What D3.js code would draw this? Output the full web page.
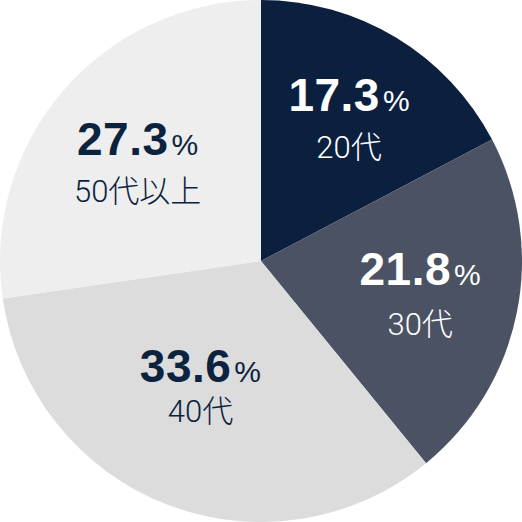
<!DOCTYPE html>
<html><head><meta charset="utf-8">
<script src="https://cdn.jsdelivr.net/npm/d3@7"></script>
<style>html,body{margin:0;padding:0;background:#fff;}svg{display:block;}</style>
</head><body>
<script>
const categories = ["20代", "30代", "40代", "50代以上"];
const values = [17.3, 21.8, 33.6, 27.3];
const colors = ["#0b1f3e", "#4a5263", "#dcdcdc", "#eeeeee"];
const textColors = ["#ffffff", "#ffffff", "#0c2340", "#0c2340"];
// layout nudges for labels (relative to arc centroid) and line gap
const labelNudge = [[3, -9], [-2, -9], [-1, -32], [1, 2]];
const labelGap = [47, 50, 40, 47];

const W = 522, H = 522, R = 261;
const svg = d3.select("body").append("svg").attr("width", W).attr("height", H);
const g = svg.append("g").attr("transform", `translate(${W/2},${H/2})`);

const data = categories.map((c, i) => ({cat: c, v: values[i], i}));
const pie = d3.pie().value(d => d.v).sort(null);
const arcs = pie(data);
const arc = d3.arc().innerRadius(0).outerRadius(R);
const labelArc = d3.arc().innerRadius(R * 0.63).outerRadius(R * 0.63);

g.selectAll("path").data(arcs).join("path")
  .attr("d", arc).attr("fill", d => colors[d.data.i]);

const lab = g.selectAll("g.lab").data(arcs).join("g").attr("class", "lab")
  .attr("transform", d => {
    const [x, y] = labelArc.centroid(d);
    const n = labelNudge[d.data.i];
    return `translate(${x + n[0]},${y + n[1]})`;
  });

const num = lab.append("text").attr("text-anchor", "middle").attr("y", 0)
  .attr("fill", d => textColors[d.data.i])
  .attr("font-family", "'Liberation Sans', Arial, sans-serif");
num.append("tspan").attr("font-size", 46).attr("font-weight", "bold").attr("letter-spacing", 0.5)
  .text(d => d.data.v.toFixed(1));
num.append("tspan").attr("font-size", 30).attr("font-weight", "normal").attr("dx", 3).text("%");

lab.append("text").attr("text-anchor", "middle").attr("y", d => labelGap[d.data.i])
  .attr("fill", d => textColors[d.data.i])
  .attr("font-family", "Roboto, 'Noto Sans CJK JP', sans-serif")
  .attr("font-size", 31).attr("font-weight", 300)
  .text(d => d.data.cat);
</script>
</body></html>
